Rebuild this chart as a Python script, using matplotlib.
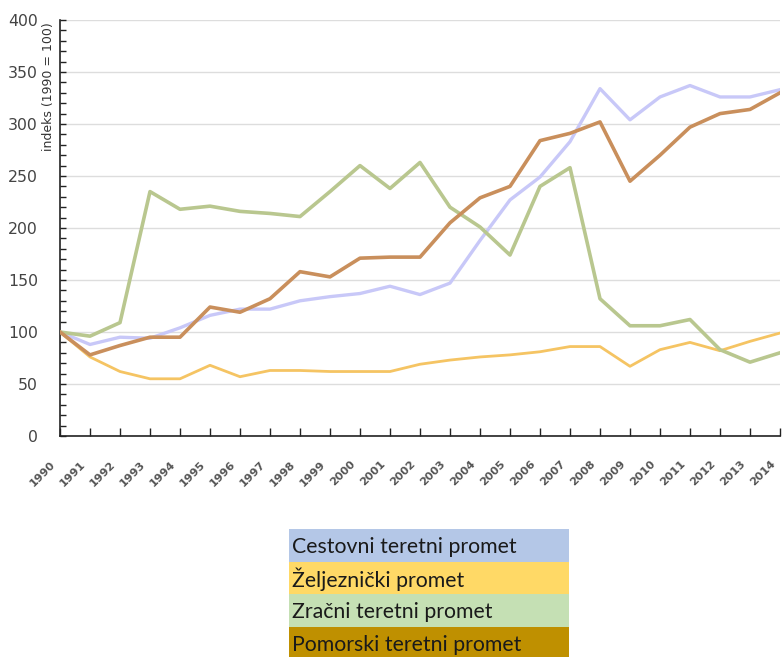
import matplotlib.pyplot as plt
from matplotlib.patches import Rectangle
from matplotlib.ticker import MultipleLocator
from matplotlib.transforms import ScaledTranslation

# Index values, 1990 = 100
years = list(range(1990, 2015))
cestovni = [100, 88, 95, 94, 104, 116, 122, 122, 130, 134, 137, 144, 136, 147, 188,
            227, 249, 283, 334, 304, 326, 337, 326, 326, 333]
zeljeznicki = [100, 76, 62, 55, 55, 68, 57, 63, 63, 62, 62, 62, 69, 73, 76,
               78, 81, 86, 86, 67, 83, 90, 82, 91, 99]
zracni = [100, 96, 109, 235, 218, 221, 216, 214, 211, 235, 260, 238, 263, 220, 201,
          174, 240, 258, 132, 106, 106, 112, 83, 71, 80]
pomorski = [100, 78, 87, 95, 95, 124, 119, 132, 158, 153, 171, 172, 172, 205, 229,
            240, 284, 291, 302, 245, 270, 297, 310, 314, 330]

legend_labels = ['Cestovni teretni promet', 'Željeznički promet',
                 'Zračni teretni promet', 'Pomorski teretni promet']
legend_colors = ['#b4c7e7', '#ffd966', '#c5e0b4', '#bf9000']

W, H = 782, 657
fig = plt.figure(figsize=(W / 100, H / 100), dpi=100)
fig.patch.set_facecolor('white')

# main chart, placed in pixel terms
ax = fig.add_axes([60 / W, (H - 436) / H, 720 / W, 416 / H])
ax.plot(years, cestovni, color='#c8c8f8', lw=2.4, solid_joinstyle='round', zorder=3)
ax.plot(years, zeljeznicki, color='#f5c463', lw=2.0, solid_joinstyle='round', zorder=3)
ax.plot(years, zracni, color='#b9c78f', lw=2.6, solid_joinstyle='round', zorder=3)
ax.plot(years, pomorski, color='#c98f5c', lw=2.6, solid_joinstyle='round', zorder=4)

ax.set_xlim(1990, 2014)
ax.set_ylim(0, 400)
ax.yaxis.set_major_locator(MultipleLocator(50))
ax.yaxis.set_minor_locator(MultipleLocator(10))
ax.set_xticks(years)
ax.grid(axis='y', which='major', color='#dddddd', lw=1.0, zorder=0)
ax.set_axisbelow(True)

for side in ['top', 'right']:
    ax.spines[side].set_visible(False)
for side in ['left', 'bottom']:
    ax.spines[side].set_color('#222222')
    ax.spines[side].set_linewidth(1.2)

ax.tick_params(axis='y', which='both', direction='in', length=4, width=1,
               color='#222222', labelsize=11.3, labelcolor='#444444', pad=16)
ax.tick_params(axis='x', direction='in', length=6, width=1, color='#222222',
               labelsize=8, labelcolor='#555555', pad=19)
shift = ScaledTranslation(-6 / 100, 0, fig.dpi_scale_trans)
for lbl in ax.get_xticklabels():
    lbl.set_rotation(45)
    lbl.set_ha('right')
    lbl.set_va('center')
    lbl.set_rotation_mode('anchor')
    lbl.set_fontweight('bold')
    lbl.set_transform(lbl.get_transform() + shift)

ax.text(-0.007, 0.995, 'indeks (1990 = 100)', transform=ax.transAxes, rotation=90,
        ha='right', va='top', fontsize=9, color='#333333')

# legend drawn as coloured bands below the chart
lax = fig.add_axes([289 / W, 0, 280 / W, 128 / H])
lax.set_xlim(0, 280)
lax.set_ylim(128, 0)
lax.axis('off')
row_h = 32.7
for i, (label, color) in enumerate(zip(legend_labels, legend_colors)):
    y0 = i * row_h
    lax.add_patch(Rectangle((0, y0), 280, row_h, facecolor=color, edgecolor='none'))
    lax.text(3, y0 + row_h / 2 + 1.5, label, ha='left', va='center',
             fontsize=15.3, family='Lato', color='#1a1a1a')

fig.savefig('out.png', dpi=100)
